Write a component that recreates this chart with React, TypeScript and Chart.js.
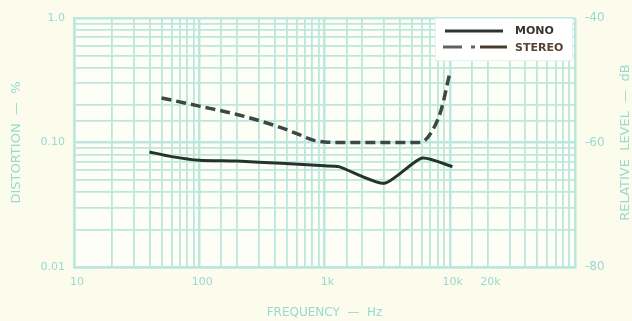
import React, { useEffect, useRef } from "react";
import { Chart, registerables } from "chart.js";

Chart.register(...registerables);

// ---- data ----
const monoFreq = [40, 60, 100, 200, 450, 1000, 1300, 3000, 6000, 10500];
const monoDist = [0.084, 0.077, 0.072, 0.071, 0.068, 0.065, 0.064, 0.047, 0.075, 0.064];
const stereoFreq = [50, 100, 200, 400, 600, 800, 1000, 1500, 3000, 5800, 6900, 8500, 10000];
const stereoDist = [0.228, 0.196, 0.168, 0.137, 0.118, 0.105, 0.101, 0.1, 0.1, 0.1, 0.115, 0.18, 0.36];
const xTickValues = [10, 100, 1000, 10000, 20000];
const xTickText = ["10", "100", "1k", "10k", "20k"];
const yTickValues = [1, 0.1, 0.01];
const yTickText = ["1.0", "0.10", "0.01"];
const levelTicks = [-40, -60, -80];
const seriesNames = ["MONO", "STEREO"];

const GRID = "#bce6de";
const TEXT = "#9ad8d3";
const FONT = "'DejaVu Sans', sans-serif";

const isDecade = (v: number) => Math.abs(Math.log10(v) - Math.round(Math.log10(v))) < 1e-6;
const findLabel = (v: number, vals: number[], txt: string[]) => {
  const i = vals.findIndex((t) => Math.abs(t - v) / t < 1e-6);
  return i >= 0 ? txt[i] : "";
};

const bgPlugin = {
  id: "bgPlugin",
  beforeDraw(chart: any) {
    const { ctx, chartArea: a } = chart;
    ctx.save();
    ctx.fillStyle = "#fdfef6";
    ctx.fillRect(a.left, a.top, a.right - a.left, a.bottom - a.top);
    ctx.restore();
  },
};

const overlayPlugin = {
  id: "overlayPlugin",
  afterDraw(chart: any) {
    const { ctx, chartArea: a } = chart;
    ctx.save();
    // right axis title
    ctx.translate(626, (a.top + a.bottom) / 2);
    ctx.rotate(-Math.PI / 2);
    ctx.fillStyle = TEXT;
    ctx.font = `13px ${FONT}`;
    ctx.textAlign = "center";
    ctx.textBaseline = "middle";
    ctx.fillText("RELATIVE  LEVEL  —  dB", 0, 0);
    ctx.restore();

    // legend
    ctx.save();
    const lx = a.right - 140;
    const ly = a.top;
    ctx.fillStyle = "#ffffff";
    ctx.fillRect(lx, ly, 137, 42);
    ctx.strokeStyle = "#e4f3ee";
    ctx.lineWidth = 1;
    ctx.strokeRect(lx + 0.5, ly + 0.5, 137, 42);
    // mono sample
    ctx.strokeStyle = "#2a3632";
    ctx.lineWidth = 3;
    ctx.beginPath();
    ctx.moveTo(lx + 10, ly + 13);
    ctx.lineTo(lx + 68, ly + 13);
    ctx.stroke();
    // stereo sample (dash-dot)
    ctx.strokeStyle = "#5d6460";
    ctx.beginPath();
    ctx.moveTo(lx + 8, ly + 29);
    ctx.lineTo(lx + 27, ly + 29);
    ctx.stroke();
    ctx.beginPath();
    ctx.moveTo(lx + 36, ly + 29);
    ctx.lineTo(lx + 40, ly + 29);
    ctx.stroke();
    ctx.strokeStyle = "#4a3c2c";
    ctx.beginPath();
    ctx.moveTo(lx + 45, ly + 29);
    ctx.lineTo(lx + 72, ly + 29);
    ctx.stroke();
    ctx.font = `bold 11px ${FONT}`;
    ctx.textBaseline = "middle";
    ctx.fillStyle = "#3a342e";
    ctx.fillText(seriesNames[0], lx + 80, ly + 13);
    ctx.fillStyle = "#5a4232";
    ctx.fillText(seriesNames[1], lx + 80, ly + 30);
    ctx.restore();
  },
};

export default function App() {
  const ref = useRef<HTMLCanvasElement>(null);
  useEffect(() => {
    document.body.style.margin = "0";
    const chart = new Chart(ref.current as HTMLCanvasElement, {
      type: "line",
      data: {
        datasets: [
          {
            label: seriesNames[0],
            data: monoFreq.map((f, i) => ({ x: f, y: monoDist[i] })),
            borderColor: "#25332e",
            borderWidth: 3,
            pointRadius: 0,
            tension: 0.2,
            fill: false,
          },
          {
            label: seriesNames[1],
            data: stereoFreq.map((f, i) => ({ x: f, y: stereoDist[i] })),
            borderColor: "#3d4844",
            borderWidth: 3.5,
            borderDash: [10, 5],
            pointRadius: 0,
            cubicInterpolationMode: "monotone",
            fill: false,
          },
        ],
      },
      options: {
        animation: false,
        responsive: true,
        maintainAspectRatio: false,
        layout: { padding: { top: 18, left: 0, right: 0, bottom: 0 } },
        plugins: { legend: { display: false }, tooltip: { enabled: false } },
        scales: {
          x: {
            type: "logarithmic",
            min: 10,
            max: 100000,
            afterFit: (s: any) => {
              s.height = 54;
            },
            border: { display: true, color: GRID, width: 2.5 },
            grid: {
              drawTicks: false,
              color: GRID,
              lineWidth: (c: any) => (c.tick && isDecade(c.tick.value) ? 2.5 : 1.8),
            },
            ticks: {
              autoSkip: false,
              maxRotation: 0,
              padding: 9,
              labelOffset: 3,
              color: TEXT,
              font: { family: FONT, size: 11 },
              callback: (v: any) => findLabel(Number(v), xTickValues, xTickText),
            },
            title: {
              display: true,
              text: "FREQUENCY  —  Hz",
              color: TEXT,
              font: { family: FONT, size: 12 },
              padding: { top: 0, bottom: 1 },
            },
          },
          y: {
            type: "logarithmic",
            position: "left",
            min: 0.01,
            max: 1,
            afterFit: (s: any) => {
              s.width = 74;
            },
            border: { display: true, color: GRID, width: 2.5 },
            grid: {
              drawTicks: false,
              color: GRID,
              lineWidth: (c: any) => (c.tick && isDecade(c.tick.value) ? 2.5 : 1.8),
            },
            ticks: {
              autoSkip: false,
              padding: 9,
              color: TEXT,
              font: { family: FONT, size: 11 },
              callback: (v: any) => findLabel(Number(v), yTickValues, yTickText),
            },
            title: {
              display: true,
              text: "DISTORTION  —  %",
              color: TEXT,
              font: { family: FONT, size: 13 },
              padding: { top: 9, bottom: 0 },
            },
          },
          y2: {
            type: "linear",
            position: "right",
            min: -80,
            max: -40,
            afterFit: (s: any) => {
              s.width = 57;
            },
            border: { display: false },
            grid: { display: false, drawTicks: false },
            afterBuildTicks: (s: any) => {
              s.ticks = levelTicks.map((v) => ({ value: v }));
            },
            ticks: {
              padding: 10,
              color: TEXT,
              font: { family: FONT, size: 12 },
              callback: (v: any) => `${v}`,
            },
          },
        },
      } as any,
      plugins: [bgPlugin, overlayPlugin],
    });
    return () => chart.destroy();
  }, []);
  return (
    <div style={{ position: "fixed", left: 0, top: 0, width: 632, height: 321, background: "#fcfcec" }}>
      <canvas ref={ref} />
    </div>
  );
}
